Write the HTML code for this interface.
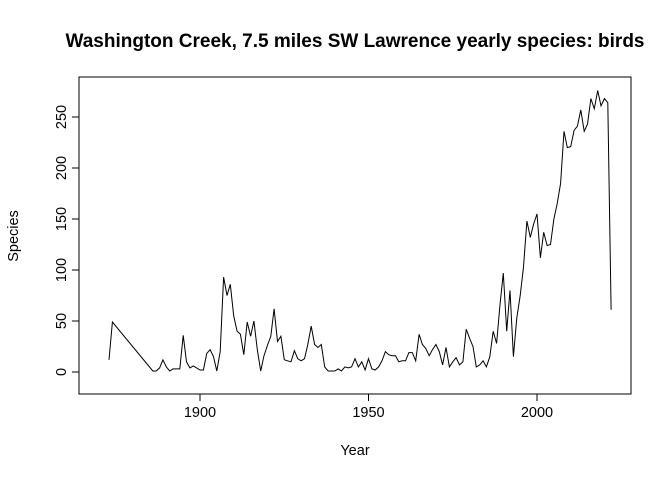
<!DOCTYPE html>
<html><head><meta charset="utf-8"><style>
body{margin:0;background:#fff}
svg text{font-family:"Liberation Sans",sans-serif;fill:#000}
</style></head><body>
<svg id="c" width="672" height="480"></svg>
<script>
const years=[];for(let y=1873;y<=2022;y++){if(y<1875||y>1885)years.push(y);}
const values=[12,49,
1,1,4,12,5,1,3,3,3,36,10,4,6,4,2,2,18,22,15,1,20,93,75,86,55,40,37,17,49,35,50,22,1,16,26,35,62,30,35,12,11,10,21,13,11,13,27,45,27,24,27,5,1,1,1,3,1,5,4,5,13,5,10,2,13,3,2,5,11,20,17,16,16,10,11,11,19,19,11,37,27,23,16,22,27,20,7,24,5,10,14,7,10,42,33,25,5,7,11,5,15,40,28,65,97,40,80,15,53,75,103,148,132,145,155,112,137,124,125,150,165,185,236,220,221,237,241,257,236,243,268,258,276,261,268,264,61];
const xTicks=[1900,1950,2000];
const yTicks=[0,50,100,150,200,250];
const NS="http://www.w3.org/2000/svg";
const svg=document.getElementById('c');
function X(v){return 200+(v-1900)*(337/100);}
function Y(v){return 372-v*(255/250);}
function el(t,a,txt){const e=document.createElementNS(NS,t);for(const k in a)e.setAttribute(k,a[k]);if(txt!==undefined)e.textContent=txt;svg.appendChild(e);return e;}
let e=el('rect',{x:79,y:77,width:552,height:317,fill:'none',stroke:'#000','stroke-width':1});


e=el('line',{x1:X(1900),x2:X(2000),y1:394,y2:394,stroke:'#000'});


xTicks.forEach(t=>{const l=el('line',{x1:X(t),x2:X(t),y1:394,y2:401,stroke:'#000'});


const tx=el('text',{x:X(t),y:417,'text-anchor':'middle','font-size':14.5},String(t));

});
e=el('line',{x1:79,x2:79,y1:Y(0),y2:Y(250),stroke:'#000'});


yTicks.forEach(t=>{const l=el('line',{x1:72,x2:79,y1:Y(t),y2:Y(t),stroke:'#000'});


const tx=el('text',{x:66,y:Y(t),'text-anchor':'middle','font-size':14.5,transform:`rotate(-90 66 ${Y(t)})`},String(t));

});
const pts=years.map((y,i)=>X(y).toFixed(1)+','+Y(values[i]).toFixed(1)).join(' ');
e=el('polyline',{points:pts,fill:'none',stroke:'#000','stroke-width':1});


e=el('text',{x:355,y:47,'text-anchor':'middle','font-size':19,'font-weight':'bold'},'Washington Creek, 7.5 miles SW Lawrence yearly species: birds');


e=el('text',{x:355,y:455,'text-anchor':'middle','font-size':14.5},'Year');


e=el('text',{x:18,y:236,'text-anchor':'middle','font-size':14.5,transform:'rotate(-90 18 236)'},'Species');


</script>
</body></html>
